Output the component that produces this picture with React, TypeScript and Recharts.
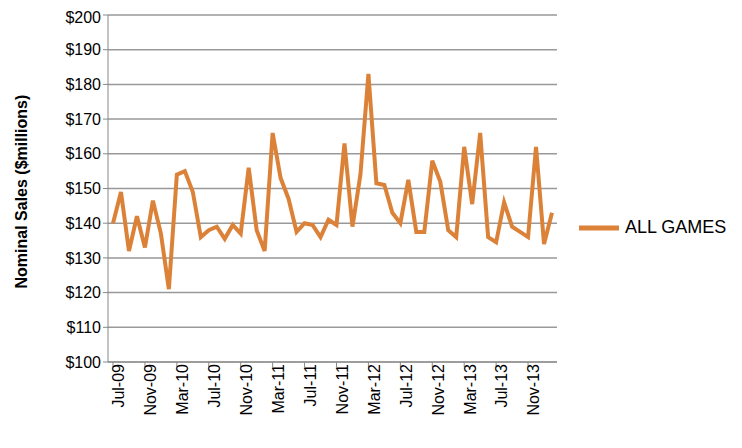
import { LineChart, Line, XAxis, YAxis, CartesianGrid, Legend } from "recharts";

const months = [
  "Jul-09","Aug-09","Sep-09","Oct-09","Nov-09","Dec-09","Jan-10","Feb-10","Mar-10","Apr-10","May-10","Jun-10",
  "Jul-10","Aug-10","Sep-10","Oct-10","Nov-10","Dec-10","Jan-11","Feb-11","Mar-11","Apr-11","May-11","Jun-11",
  "Jul-11","Aug-11","Sep-11","Oct-11","Nov-11","Dec-11","Jan-12","Feb-12","Mar-12","Apr-12","May-12","Jun-12",
  "Jul-12","Aug-12","Sep-12","Oct-12","Nov-12","Dec-12","Jan-13","Feb-13","Mar-13","Apr-13","May-13","Jun-13",
  "Jul-13","Aug-13","Sep-13","Oct-13","Nov-13","Dec-13","Jan-14","Feb-14",
];

const allGames = [
  140, 149, 132, 142, 133, 146.5, 137, 121, 154, 155, 149, 136,
  138, 139, 135.5, 139.5, 137, 156, 138, 132, 166, 153, 147, 137.5,
  140, 139.5, 136, 141, 139.5, 163, 139, 154, 183, 151.5, 151, 143,
  140, 152.5, 137.5, 137.5, 158, 152, 138, 136, 162, 145.5, 166, 136,
  134.5, 146, 139, 137.5, 136, 162, 134, 143,
];

const yTicks = [100, 110, 120, 130, 140, 150, 160, 170, 180, 190, 200];

const data = months.map((m, i) => ({ month: m, "ALL GAMES": allGames[i] }));

const font = "'Liberation Sans', Arial, sans-serif";

export default function App() {
  return (
    <div style={{ fontFamily: font }}>
      <LineChart width={734} height={440} data={data} margin={{ top: 7, right: 10, bottom: 0, left: 30 }}>
        <CartesianGrid stroke="#999" vertical={false} strokeWidth={1.5} />
        <XAxis
          dataKey="month"
          interval={3}
          angle={-90}
          textAnchor="end"
          height={86}
          tick={{ fontSize: 16, fill: "#000", fontFamily: font, dy: -5 }}
          stroke="#888"
          tickSize={5}
          padding={{ left: 5, right: 5 }}
        />
        <YAxis
          domain={[100, 200]}
          ticks={yTicks}
          tickFormatter={(v) => `$${v}`}
          tick={{ fontSize: 16, fill: "#000", fontFamily: font }}
          stroke="#888"
          tickSize={5}
          width={70}
          label={{
            value: "Nominal Sales ($millions)",
            angle: -90,
            position: "insideLeft",
            dx: -22,
            dy: 100,
            style: { fontSize: 16, fontWeight: "bold", fill: "#000", fontFamily: font },
          }}
        />
        <Legend
          layout="vertical"
          align="right"
          verticalAlign="middle"
          iconType="plainline"
          iconSize={40}
          width={175}
          wrapperStyle={{ right: -12, fontSize: 18, fontFamily: font }}
          formatter={(v) => <span style={{ color: "#000", marginLeft: 2 }}>{v}</span>}
        />
        <Line
          type="linear"
          dataKey="ALL GAMES"
          stroke="#DC8238"
          strokeWidth={4}
          dot={false}
          isAnimationActive={false}
        />
      </LineChart>
    </div>
  );
}
